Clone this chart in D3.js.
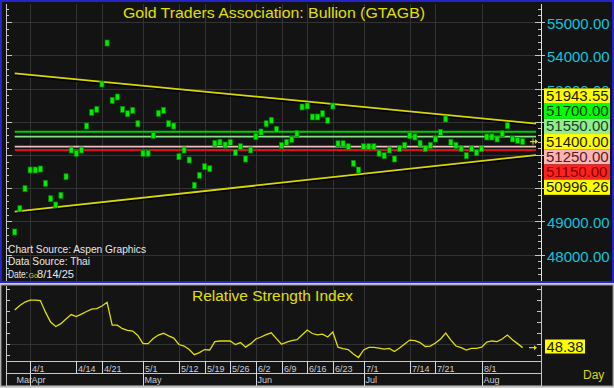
<!DOCTYPE html>
<html><head><meta charset="utf-8">
<script src="https://cdn.jsdelivr.net/npm/d3@7"></script>
<style>html,body{margin:0;padding:0;background:#d0d0d0;overflow:hidden}svg{display:block}text{font-family:"Liberation Sans",Arial,sans-serif}</style>
</head><body><svg id="c" width="614" height="388"></svg>
<script>
const dates = ["3/27","3/28","3/31","4/1","4/2","4/3","4/4","4/7","4/8","4/9","4/10","4/11","4/14","4/15","4/16","4/17","4/18","4/21","4/22","4/23","4/24","4/25","4/28","4/29","4/30","5/1","5/2","5/5","5/6","5/7","5/8","5/9","5/12","5/13","5/14","5/15","5/16","5/19","5/20","5/21","5/22","5/23","5/26","5/27","5/28","5/29","5/30","6/2","6/3","6/4","6/5","6/6","6/9","6/10","6/11","6/12","6/13","6/16","6/17","6/18","6/19","6/20","6/23","6/24","6/25","6/26","6/27","6/30","7/1","7/2","7/3","7/4","7/7","7/8","7/9","7/10","7/11","7/14","7/15","7/16","7/17","7/18","7/21","7/22","7/23","7/24","7/25","7/28","7/29","7/30","7/31","8/1","8/4","8/5","8/6","8/7","8/8","8/11","8/12","8/13"];
const closes = [
48678,49380,49982,50545,50545,50575,50145,49681,49491,49783,
50343,51148,51048,51148,51870,52283,52373,53136,54370,52645,
52744,52373,52241,52343,51940,51048,51048,51590,52253,52343,
51940,51870,50946,51148,50846,50084,50386,50645,50584,51349,
51380,51298,51380,51066,51247,50877,51148,51548,51690,51940,
52042,51771,51289,51380,51470,51639,52443,52473,52142,52142,
52241,52042,52473,51337,51337,51247,50747,50545,51247,51247,
51247,51048,50976,51148,50877,51193,51289,51578,51539,51349,
51187,51289,51479,51681,52081,51380,51289,51187,50976,51187,
51066,51187,51539,51539,51479,51639,51880,51479,51440,51400];
const rsi = [
65.5,67.5,69.1,70.0,70.0,69.8,64.5,60.0,58.0,59.3,
61.4,63.4,62.5,63.6,64.8,65.9,66.1,67.3,69.0,58.6,
58.6,57.0,56.2,55.9,53.9,50.2,50.2,52.5,54.1,54.9,
53.7,52.7,49.8,49.1,47.5,45.2,46.1,47.5,47.3,51.1,
51.4,51.4,51.4,49.8,50.7,48.6,50.2,52.3,53.2,54.3,
55.1,52.5,49.9,50.9,51.6,52.0,54.1,56.4,54.8,54.2,
54.5,53.2,55.5,48.6,47.9,47.5,45.5,43.9,47.3,48.5,
48.5,48.2,47.7,48.0,46.6,48.2,50.0,51.8,51.6,50.7,
48.9,49.1,50.5,52.3,55.0,51.8,49.1,48.4,47.3,48.0,
48.0,48.6,50.9,51.4,51.1,52.3,54.1,52.0,50.2,48.38];
const tickLabels = ["4/1","4/14","4/21","5/1","5/12","5/19","5/26","6/2","6/9","6/16","6/23","7/1","7/14","7/21","8/1"];
const monthLabels = ["Mar","Apr","May","Jun","Jul","Aug"];
const monthStarts = ["3/27","4/1","5/1","6/2","7/1","8/1"];
const yTicks = [48000,49000,50000,51000,52000,53000,54000,55000];
const yLabelTicks = [48000,49000,53000,54000,55000];
const trendIdx = [0, 101.6];
const trendUpper = [53458, 51943.55];
const trendLower = [49289, 50996.26];
const levelValues = [51700, 51550, 51250, 51150];
const levelColors = ["#00cc00", "#88e088", "#f0c0c0", "#e01010"];
const boxLabels = ["51943.55","51700.00","51550.00","51400.00","51250.00","51150.00","50996.26"];
const boxColors = ["#ffff00","#00ff00","#90ee90","#ffff00","#ffb4b4","#ff2020","#ffff00"];
const boxText = ["#202000","#003000","#204020","#202000","#502020","#800000","#202000"];
const lastClose = 51400;
const lastRsi = "48.38";

const svg = d3.select("#c");
const L = 6, R = 541, T = 4, B = 281, RT = 286, RB = 361;
const x = d3.scaleLinear().domain([0, 99]).range([14.7, 522.7]);
const y = d3.scaleLinear().domain([48000, 54000]).range([254.5, 55.3]);
const yr = d3.scaleLinear().domain([42.3, 76.4]).range([RB, RT]);
const idx = d => dates.indexOf(d);

svg.append("rect").attr("width",614).attr("height",388).attr("fill","#d0d0d0");
svg.append("rect").attr("x",1).attr("y",1).attr("width",612).attr("height",281).attr("fill","#131313").attr("stroke","#2424c8").attr("stroke-width",2);
svg.append("rect").attr("x",1).attr("y",285).attr("width",612).attr("height",101).attr("fill","#141414").attr("stroke","#909090").attr("stroke-width",1);

const defs = svg.append("defs");
const bh = 15.2;
const top0 = y(lastClose) - bh/2 - 3*bh;
defs.append("clipPath").attr("id","axclip").append("rect").attr("x",541).attr("y",0).attr("width",73).attr("height",top0);

const g = svg.append("g");
tickLabels.forEach(t => {
  const xx = Math.round(x(idx(t))) + 0.5;
  g.append("line").attr("x1",xx).attr("x2",xx).attr("y1",T).attr("y2",B).attr("stroke","#333");
  g.append("line").attr("x1",xx).attr("x2",xx).attr("y1",RT).attr("y2",RB).attr("stroke","#333");
});
yTicks.forEach(v => {
  const yy = Math.round(y(v)) + 0.5;
  g.append("line").attr("x1",L).attr("x2",R).attr("y1",yy).attr("y2",yy).attr("stroke","#333");
});
g.append("line").attr("x1",L).attr("x2",R).attr("y1",Math.round(yr(50))+0.5).attr("y2",Math.round(yr(50))+0.5).attr("stroke","#333");

d3.range(47400, 55600, 200).forEach(v => {
  const yy = Math.round(y(v)) + 0.5;
  if (yy < T || yy > B) return;
  const maj = v % 1000 === 0;
  g.append("line").attr("x1",L).attr("x2",L + (maj?6:3)).attr("y1",yy).attr("y2",yy).attr("stroke","#c8c8c8");
  g.append("line").attr("x1",R - (maj?6:3)).attr("x2",R + (maj?4:0)).attr("y1",yy).attr("y2",yy).attr("stroke","#c8c8c8");
});
g.append("line").attr("x1",L+0.5).attr("x2",L+0.5).attr("y1",T).attr("y2",B).attr("stroke","#c8c8c8");
g.append("line").attr("x1",R+0.5).attr("x2",R+0.5).attr("y1",T).attr("y2",B).attr("stroke","#e0e0e0");

d3.range(45, 80, 5).forEach(v => {
  const yy = Math.round(yr(v)) + 0.5;
  g.append("line").attr("x1",L).attr("x2",L+4).attr("y1",yy).attr("y2",yy).attr("stroke","#c8c8c8");
  g.append("line").attr("x1",R-4).attr("x2",R).attr("y1",yy).attr("y2",yy).attr("stroke","#c8c8c8");
});
g.append("line").attr("x1",L+0.5).attr("x2",L+0.5).attr("y1",RT).attr("y2",RB).attr("stroke","#c8c8c8");
g.append("line").attr("x1",R+0.5).attr("x2",R+0.5).attr("y1",RT).attr("y2",RB).attr("stroke","#c8c8c8");

levelValues.forEach((v,i) => {
  const yy = y(v);
  g.append("line").attr("x1",x(0)).attr("x2",536).attr("y1",yy).attr("y2",yy)
    .attr("stroke",levelColors[i]).attr("stroke-width", (i===0||i===3)?2:1.6);
});

const tl = d3.line().x(d => x(d[0])).y(d => d[1]);
[trendUpper, trendLower].forEach(tr => {
  const pts = trendIdx.map((t,i) => [t, y(tr[i])]);
  g.append("path").attr("d", tl(pts.map(p => [p[0], p[1]+1.6]))).attr("stroke","#000").attr("stroke-width",2).attr("fill","none");
  g.append("path").attr("d", tl(pts)).attr("stroke","#d8d800").attr("stroke-width",1.8).attr("fill","none");
});

g.selectAll("rect.p").data(closes).enter().append("rect").attr("class","p")
  .attr("x",(d,i)=>x(i)-2).attr("y",d=>y(d)-3).attr("width",4).attr("height",6)
  .attr("fill","#00f000").attr("stroke","#008800").attr("stroke-width",0.7);

function arrow(ax, ay){
  g.append("line").attr("x1",ax).attr("x2",ax+7).attr("y1",ay).attr("y2",ay).attr("stroke","#e0e000").attr("stroke-width",1.2);
  g.append("path").attr("d",`M${ax+8},${ay} l-3,-2.5 l0,5 z`).attr("fill","#e0e000");
}
arrow(530, y(lastClose));
g.append("line").attr("x1",533).attr("x2",533).attr("y1",y(lastClose)-3).attr("y2",y(lastClose)+3).attr("stroke","#e0e000").attr("stroke-width",1);

// right axis labels (those hidden behind the boxes are clipped)
yLabelTicks.forEach(v => {
  const t = g.append("text").attr("x",547).attr("y",y(v)+7).attr("fill","#10c4d8").attr("font-size",15).text(d3.format(".2f")(v));
  if (v === 53000) t.attr("clip-path","url(#axclip)");
});
boxLabels.forEach((t,i) => {
  const by = top0 + i*bh;
  g.append("rect").attr("x",544).attr("y",by).attr("width",66).attr("height",bh).attr("fill",boxColors[i]);
  g.append("text").attr("x",546).attr("y",by+12.6).attr("fill",boxText[i]).attr("font-size",15).text(t);
});

g.append("text").attr("x",123).attr("y",18).attr("fill","#e0e000").attr("font-size",15)
  .attr("textLength",302).attr("lengthAdjust","spacingAndGlyphs").text("Gold Traders Association: Bullion (GTAGB)");
g.append("text").attr("x",192).attr("y",301).attr("fill","#e0e000").attr("font-size",14)
  .attr("textLength",161).attr("lengthAdjust","spacingAndGlyphs").text("Relative Strength Index");

const st = [["Chart Source: Aspen Graphics",253,138],["Data Source: Thai",265,82]];
st.forEach(s => g.append("text").attr("x",8).attr("y",s[1]).attr("fill","#e8e8e8").attr("font-size",11)
  .attr("textLength",s[2]).attr("lengthAdjust","spacingAndGlyphs").text(s[0]));
g.append("text").attr("x",8).attr("y",278).attr("fill","#e8e8e8").attr("font-size",11).attr("textLength",20).attr("lengthAdjust","spacingAndGlyphs").text("Date:");
g.append("text").attr("x",28.5).attr("y",278).attr("fill","#d8d800").attr("font-size",7).text("Go");
g.append("text").attr("x",37).attr("y",278).attr("fill","#e8e8e8").attr("font-size",11).attr("textLength",37).attr("lengthAdjust","spacingAndGlyphs").text("8/14/25");

g.append("path").attr("d", d3.line().x((d,i)=>x(i)).y(d=>yr(d))(rsi))
  .attr("fill","none").attr("stroke","#e0e000").attr("stroke-width",1.3);
arrow(529, yr(+lastRsi));
g.append("rect").attr("x",545).attr("y",339.5).attr("width",40).attr("height",14).attr("fill","#ffff00");
g.append("text").attr("x",546.5).attr("y",352).attr("fill","#202000").attr("font-size",15).attr("textLength",37).attr("lengthAdjust","spacingAndGlyphs").text(lastRsi);
g.append("text").attr("x",583).attr("y",379).attr("fill","#d8d800").attr("font-size",12).text("Day");

const ax = svg.append("g");
ax.append("rect").attr("x",L).attr("y",361).attr("width",R-L).attr("height",25).attr("fill","#141414");
[361.5, 373.5, 386].forEach(yy => ax.append("line").attr("x1",L).attr("x2",R+1).attr("y1",yy).attr("y2",yy).attr("stroke","#c8c8c8"));
ax.append("line").attr("x1",L+0.5).attr("x2",L+0.5).attr("y1",361).attr("y2",386).attr("stroke","#c8c8c8");
ax.append("line").attr("x1",R+0.5).attr("x2",R+0.5).attr("y1",361).attr("y2",386).attr("stroke","#c8c8c8");
tickLabels.forEach(t => {
  const xx = Math.round(x(idx(t))) + 0.5;
  ax.append("line").attr("x1",xx).attr("x2",xx).attr("y1",361).attr("y2",373.5).attr("stroke","#d8d8d8");
  ax.append("text").attr("x",xx+1.5).attr("y",371.5).attr("fill","#c8ccd8").attr("font-size",9).text(t);
});
monthLabels.forEach((m,i) => {
  const xx = Math.round(x(idx(monthStarts[i]))) + 0.5;
  if (i > 0) ax.append("line").attr("x1",xx).attr("x2",xx).attr("y1",373.5).attr("y2",386).attr("stroke","#d8d8d8");
  ax.append("text").attr("x",xx+1).attr("y",383).attr("fill","#c8ccd8").attr("font-size",9).text(m);
});
</script></body></html>
